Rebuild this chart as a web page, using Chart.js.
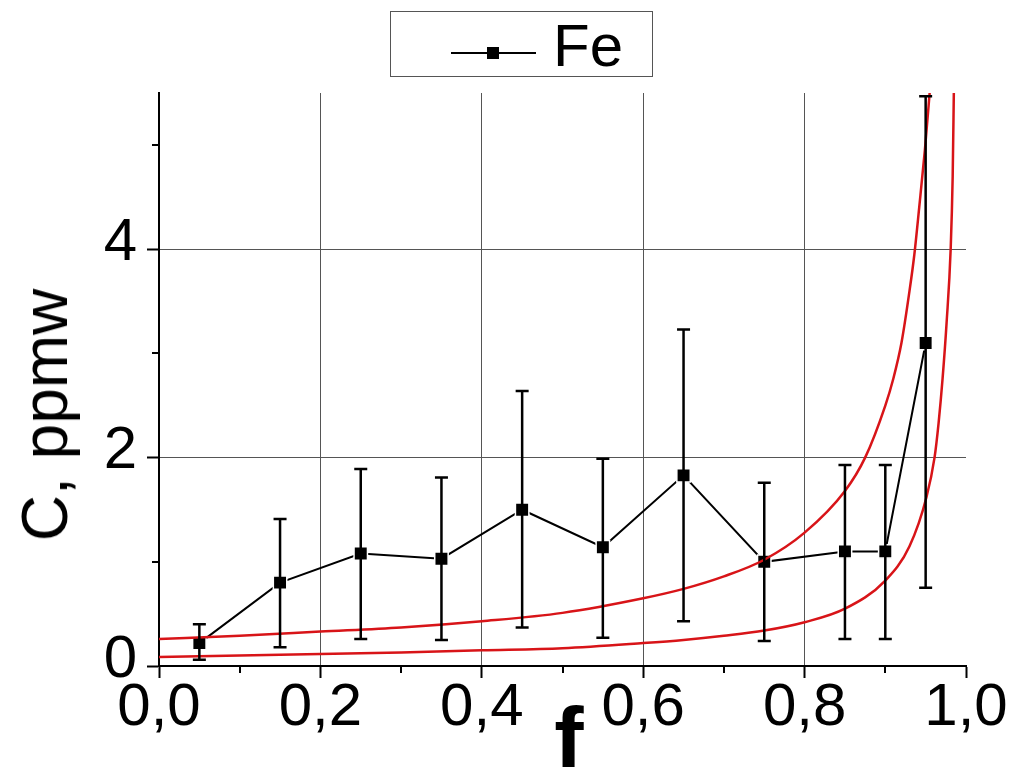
<!DOCTYPE html>
<html>
<head>
<meta charset="utf-8">
<script src="https://cdn.jsdelivr.net/npm/chart.js@4.4.1/dist/chart.umd.min.js"></script>
<style>
  html, body { margin: 0; padding: 0; background: #fff; overflow: hidden; }
  #wrap { position: relative; width: 1019px; height: 767px; font-family: 'Liberation Sans', Arial, sans-serif; }
  #chart { position: absolute; left: 0; top: 0; }
  .legend {
    position: absolute; left: 390px; top: 11px; width: 263px; height: 66px;
    box-sizing: border-box; border: 1px solid #555; background: #fff;
  }
  .legend svg { position: absolute; left: 59px; top: 0; }
  .legend span { position: absolute; left: 162px; top: 4px; font-size: 60px; line-height: 60px; color: #000; }
  .ytitle {
    position: absolute; left: 45px; top: 415px; font-size: 64px; line-height: 64px; color: #000;
    white-space: nowrap; transform: translate(-50%, -50%) rotate(-90deg);
  }
  .xtitle {
    position: absolute; left: 569px; top: 694px; font-size: 88px; line-height: 88px; font-weight: bold;
    color: #000; transform: translateX(-50%);
  }
</style>
</head>
<body>
<div id="wrap">
  <canvas id="chart" width="1019" height="767"></canvas>
  <div class="legend">
    <svg width="90" height="66">
      <line x1="1" y1="41" x2="86" y2="41" stroke="#000" stroke-width="2"/>
      <rect x="37" y="35" width="12" height="12" fill="#000"/>
    </svg>
    <span>Fe</span>
  </div>
  <div class="ytitle">C, ppmw</div>
  <div class="xtitle">f</div>
</div>
<script>
// ── Données ────────────────────────────────────────────────────────────────
const fValues   = [0.05, 0.15, 0.25, 0.35, 0.45, 0.55, 0.65, 0.75, 0.85, 0.90, 0.95];
const feConc    = [0.22, 0.80, 1.08, 1.03, 1.50, 1.14, 1.83, 1.00, 1.10, 1.10, 3.10];
const feErrHigh = [0.40, 1.41, 1.89, 1.81, 2.64, 1.99, 3.23, 1.76, 1.93, 1.93, 5.47];
const feErrLow  = [0.06, 0.18, 0.26, 0.25, 0.37, 0.27, 0.43, 0.24, 0.26, 0.26, 0.75];

// courbes rouges
const upperF = [0, 0.1, 0.2, 0.3, 0.4, 0.5, 0.6, 0.65, 0.7, 0.75, 0.8, 0.85, 0.875, 0.9, 0.91, 0.92, 0.93, 0.936, 0.942, 0.949, 0.956];
const upperC = [0.26, 0.29, 0.33, 0.37, 0.43, 0.51, 0.65, 0.74, 0.86, 1.02, 1.28, 1.68, 2.0, 2.5, 2.76, 3.1, 3.6, 3.95, 4.4, 4.95, 5.6];
const lowerF = [0, 0.1, 0.2, 0.3, 0.4, 0.5, 0.6, 0.65, 0.7, 0.75, 0.8, 0.85, 0.9, 0.93, 0.951, 0.961, 0.966, 0.971, 0.976, 0.981, 0.9835, 0.985];
const lowerC = [0.087, 0.10, 0.115, 0.13, 0.15, 0.17, 0.22, 0.25, 0.29, 0.34, 0.42, 0.55, 0.82, 1.15, 1.62, 2.0, 2.33, 2.76, 3.3, 4.0, 4.7, 5.55];

const xMinorTicks = [0.1, 0.3, 0.5, 0.7, 0.9];
const yMinorTicks = [1, 3, 5];

const RED = '#d81418';
const pts = (xs, ys) => xs.map((x, i) => ({ x, y: ys[i] }));

Chart.defaults.font.family = "'Liberation Sans', Arial, sans-serif";
Chart.defaults.color = '#000';

// ── Barres d'erreur ────────────────────────────────────────────────────────
const errorBars = {
  id: 'errorBars',
  afterDatasetsDraw(chart) {
    const { ctx, scales: { x, y } } = chart;
    ctx.save();
    ctx.strokeStyle = '#000';
    ctx.lineWidth = 2.5;
    fValues.forEach((f, i) => {
      const px  = x.getPixelForValue(f);
      const top = y.getPixelForValue(feErrHigh[i]);
      const bot = y.getPixelForValue(feErrLow[i]);
      ctx.beginPath();
      ctx.moveTo(px, top); ctx.lineTo(px, bot);
      ctx.moveTo(px - 6.5, top); ctx.lineTo(px + 6.5, top);
      ctx.moveTo(px - 6.5, bot); ctx.lineTo(px + 6.5, bot);
      ctx.stroke();
    });
    ctx.restore();
  },
};

// ── Graduations secondaires ────────────────────────────────────────────────
const minorTicks = {
  id: 'minorTicks',
  afterDraw(chart) {
    const { ctx, scales: { x, y } } = chart;
    ctx.save();
    ctx.strokeStyle = '#000';
    ctx.lineWidth = 2;
    ctx.beginPath();
    xMinorTicks.forEach(v => {
      const px = Math.round(x.getPixelForValue(v));
      ctx.moveTo(px, x.top); ctx.lineTo(px, x.top + 7);
    });
    yMinorTicks.forEach(v => {
      const py = Math.round(y.getPixelForValue(v));
      ctx.moveTo(y.right, py); ctx.lineTo(y.right - 7, py);
    });
    ctx.stroke();
    ctx.restore();
  },
};

const gridColor = c => (c.tick && (c.tick.value === 0 || c.tick.value === 1)) ? 'rgba(0,0,0,0)' : '#555';

new Chart(document.getElementById('chart'), {
  type: 'line',
  data: {
    datasets: [
      {
        label: 'Fe',
        data: pts(fValues, feConc),
        borderColor: '#000', backgroundColor: '#000',
        borderWidth: 2,
        pointStyle: 'rect', pointRadius: 9.5,
        pointBorderColor: '#fff', pointBorderWidth: 1.5,
        order: 2,
      },
      {
        label: 'upper',
        data: pts(upperF, upperC),
        borderColor: RED, borderWidth: 2.5,
        pointRadius: 0, cubicInterpolationMode: 'monotone',
        order: 1,
      },
      {
        label: 'lower',
        data: pts(lowerF, lowerC),
        borderColor: RED, borderWidth: 2.5,
        pointRadius: 0, cubicInterpolationMode: 'monotone',
        order: 1,
      },
    ],
  },
  options: {
    responsive: false, animation: false,
    layout: { padding: { top: 93, right: 53, bottom: 0, left: 0 } },
    plugins: { legend: { display: false }, tooltip: { enabled: false } },
    scales: {
      x: {
        type: 'linear', min: 0, max: 1,
        afterFit: s => { s.height = 101; },
        ticks: {
          stepSize: 0.2, padding: 0,
          font: { size: 60, lineHeight: 1 },
          callback: v => v.toFixed(1).replace('.', ','),
          maxRotation: 0,
        },
        grid: { color: gridColor, lineWidth: 1, tickColor: '#000', tickWidth: 2, tickLength: 12 },
        border: { color: '#000', width: 2 },
      },
      y: {
        type: 'linear', min: 0, max: 5.5,
        afterFit: s => { s.width = 159; },
        ticks: {
          stepSize: 2, includeBounds: false, padding: 10, labelOffset: -6,
          font: { size: 60, lineHeight: 1 },
          callback: v => String(v),
        },
        grid: { color: gridColor, lineWidth: 1, tickColor: '#000', tickWidth: 2, tickLength: 12 },
        border: { color: '#000', width: 2 },
      },
    },
  },
  plugins: [errorBars, minorTicks],
});
</script>
</body>
</html>
